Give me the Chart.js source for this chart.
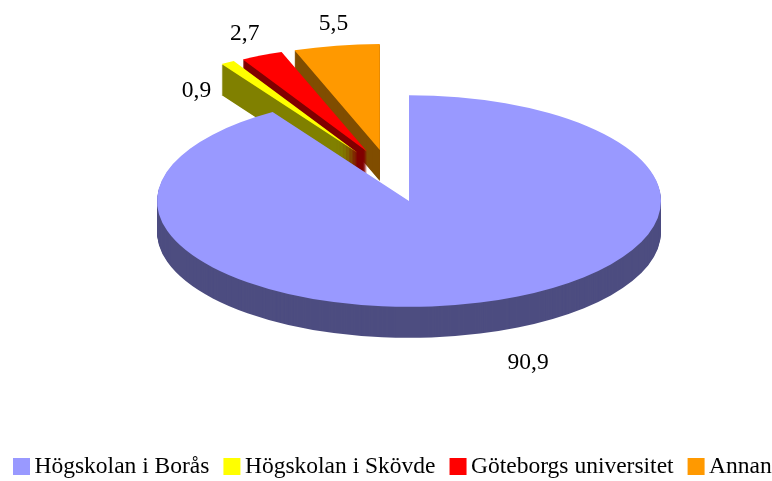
<!DOCTYPE html>
<html>
<head>
<meta charset="utf-8">
<style>
  html, body { margin: 0; background: #fff; }
  canvas { display: block; }
</style>
<script src="https://cdn.jsdelivr.net/npm/chart.js@4"></script>
</head>
<body>
<canvas id="pieChart" width="772" height="481"></canvas>
<script>
// data
const categories = ['Högskolan i Borås', 'Högskolan i Skövde', 'Göteborgs universitet', 'Annan'];
const values = [90.9, 0.9, 2.7, 5.5];

// colours: top face and side wall
const topColors = ['#9999FF', '#FFFF00', '#FF0000', '#FF9900'];
const sideColors = ['#4D4D80', '#808000', '#800000', '#804D00'];

// look of the fake 3D pie
const centerX = 409;
const centerY = 201;
const pieRadius = 252;
const squash = 0.42;
const depth = 31;
const explode = [0, 125, 125, 125];
const explodeSkew = [0, 7, 5, -3.6];                  // degrees
const labelShift = [[48, 60], [-31, 28], [-17, -22], [-3, -22]];
const drawOrder = [3, 2, 1];
const textFont = '23.5px "Liberation Serif"';

function flatOptions(color) {
  return { backgroundColor: color, borderColor: color, borderWidth: 0, offset: 0, spacing: 0, circular: true, borderRadius: 0, borderAlign: 'center' };
}

function sliceShift(arc, i) {
  const angle = (arc.startAngle + arc.endAngle) / 2 + explodeSkew[i] * Math.PI / 180;
  return { x: Math.cos(angle) * explode[i], y: Math.sin(angle) * explode[i] * squash };
}

function drawFace(ctx, arc, i, drop, color) {
  const shift = sliceShift(arc, i);
  ctx.save();
  ctx.translate(centerX + shift.x, centerY + shift.y + drop);
  ctx.scale(1, squash);
  ctx.translate(-arc.x, -arc.y);
  arc.options = flatOptions(color);
  arc.draw(ctx);
  ctx.restore();
}

function drawSlice(ctx, arc, i) {
  for (let d = depth; d > 0; d--) drawFace(ctx, arc, i, d, sideColors[i]);
  drawFace(ctx, arc, i, 0, topColors[i]);
}

const fakePie3d = {
  id: 'fakePie3d',
  beforeDatasetsDraw(chart) {
    const ctx = chart.ctx;
    const arcs = chart.getDatasetMeta(0).data;

    // big slice wall first, its top last so it covers the small walls
    for (let d = depth; d > 0; d--) drawFace(ctx, arcs[0], 0, d, sideColors[0]);
    drawOrder.forEach(i => drawSlice(ctx, arcs[i], i));
    drawFace(ctx, arcs[0], 0, 0, topColors[0]);

    // value labels
    ctx.save();
    ctx.font = textFont;
    ctx.fillStyle = '#000';
    ctx.textAlign = 'center';
    ctx.textBaseline = 'middle';
    arcs.forEach((arc, i) => {
      const shift = sliceShift(arc, i);
      const mid = (arc.startAngle + arc.endAngle) / 2;
      const x = centerX + shift.x + Math.cos(mid) * pieRadius + labelShift[i][0];
      const y = centerY + shift.y + Math.sin(mid) * pieRadius * squash + labelShift[i][1];
      ctx.fillText(String(values[i]).replace('.', ','), x, y);
    });

    // legend row, the built-in one wraps at this width
    ctx.textAlign = 'left';
    let x = 13;
    categories.forEach((name, i) => {
      ctx.fillStyle = topColors[i];
      ctx.fillRect(x, 458, 17, 17);
      ctx.fillStyle = '#000';
      ctx.fillText(name, x + 21.5, 467);
      x += 21.5 + ctx.measureText(name).width + 14;
    });
    ctx.restore();
    return false;
  }
};

new Chart(document.getElementById('pieChart'), {
  type: 'pie',
  data: {
    labels: categories,
    datasets: [{ data: values, backgroundColor: topColors, borderWidth: 0 }]
  },
  options: {
    responsive: false,
    animation: false,
    events: [],
    radius: pieRadius,
    plugins: {
      tooltip: { enabled: false },
      legend: { display: false }
    }
  },
  plugins: [fakePie3d]
});
</script>
</body>
</html>
